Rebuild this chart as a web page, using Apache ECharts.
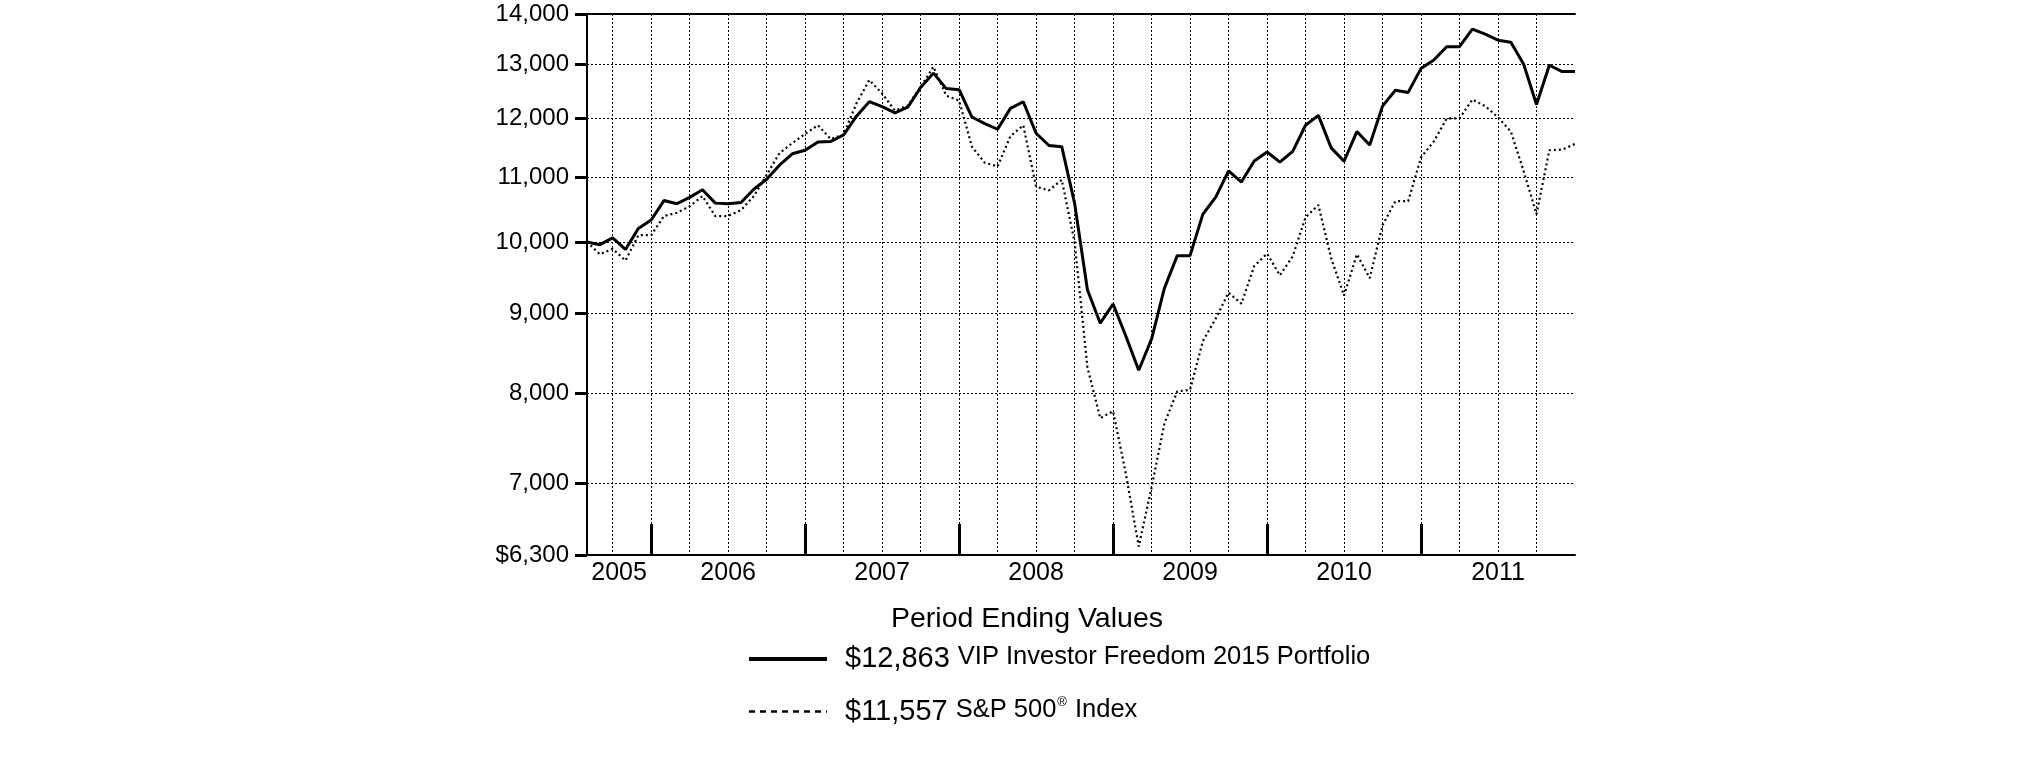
<!DOCTYPE html>
<html><head><meta charset="utf-8">
<script src="https://cdn.jsdelivr.net/npm/echarts@6/dist/echarts.min.js"></script>
<style>html,body{margin:0;padding:0;background:#fff}#c{width:2025px;height:761px}</style>
</head><body><div id="c"></div>
<script>
// ---- data ----
const startYear = 2005, startMonth = 7; // first plotted month
const fundName = 'VIP Investor Freedom 2015 Portfolio';
const indexName = 'S&P 500® Index';
const titleText = 'Period Ending Values';
const fundValues = [
  10000, 9960, 10060, 9890, 10200, 10330, 10630, 10580, 10680, 10800,
  10590, 10580, 10600, 10810, 10970, 11200, 11390, 11450, 11590, 11600,
  11710, 12040, 12300, 12210, 12100, 12200, 12560, 12830, 12540, 12520,
  12025, 11910, 11810, 12180, 12300, 11740, 11530, 11510, 10590, 9320,
  8870, 9125, 8700, 8275, 8665, 9340, 9800, 9800, 10420, 10685,
  11105, 10925, 11270, 11420, 11250, 11430, 11880, 12055, 11490, 11265,
  11770, 11540, 12220, 12510, 12470, 12920, 13080, 13340, 13340, 13690,
  13590, 13470, 13430, 13000, 12250, 12980, 12860, 12863
];
const indexValues = [
  10000, 9820, 9900, 9730, 10100, 10100, 10390, 10440, 10540, 10700,
  10390, 10390, 10480, 10700, 11040, 11400, 11570, 11730, 11880, 11640,
  11720, 12270, 12700, 12450, 12140, 12230, 12570, 12950, 12410, 12320,
  11510, 11240, 11180, 11690, 11880, 10850, 10790, 10960, 10000, 8310,
  7710, 7790, 7100, 6380, 6960, 7650, 8020, 8040, 8640, 8930,
  9280, 9130, 9650, 9830, 9520, 9790, 10370, 10560, 9760, 9240,
  9820, 9480, 10250, 10620, 10620, 11330, 11600, 12000, 12000, 12340,
  12220, 12020, 11770, 11100, 10420, 11450, 11460, 11557
];
const yTicks = [6300, 7000, 8000, 9000, 10000, 11000, 12000, 13000, 14000];
const yearLabels = ['2005', '2006', '2007', '2008', '2009', '2010', '2011'];

// ---- derived ----
const n = fundValues.length;
const months = [];
for (let i = 0; i < n; i++) {
  const k = startMonth - 1 + i;
  months.push({ y: startYear + Math.floor(k / 12), m: (k % 12) + 1 });
}
const idx = months.map((d, i) => i);
const quarterIdx = idx.filter(i => months[i].m % 3 === 0 && i > 0 && i < n - 1);
const yearEndIdx = idx.filter(i => months[i].m === 12 && i < n - 1);
const yearCenters = yearLabels.map(yl => {
  const y = +yl;
  let a = months.findIndex(d => d.y === y - 1 && d.m === 12); if (a < 0) a = 0;
  let b = months.findIndex(d => d.y === y && d.m === 12); if (b < 0) b = n - 1;
  return (a + b) / 2;
});
const money = v => '$' + Math.round(v).toLocaleString('en-US');
const AR = "'Liberation Sans', Arial, sans-serif";
const idxParts = indexName.split('®');

const chart = echarts.init(document.getElementById('c'), null, { renderer: 'canvas' });
chart.setOption({
  animation: false,
  backgroundColor: '#fff',
  grid: { left: 587, right: 450, top: 14, bottom: 206, containLabel: false, outerBoundsMode: 'none' },
  title: {
    text: titleText, left: 891, top: 605, padding: 0,
    textStyle: { fontFamily: AR, fontSize: 28.5, fontWeight: 'normal', color: '#000' }
  },
  legend: {
    orient: 'vertical', left: 747, top: 644, padding: 0,
    itemWidth: 78, itemHeight: 14, itemGap: 22,
    selectedMode: false,
    itemStyle: { color: 'rgba(0,0,0,0)', borderColor: 'rgba(0,0,0,0)', borderWidth: 0 },
    data: [
      { name: fundName, lineStyle: { color: '#000', width: 4, type: 'solid' } },
      { name: indexName, lineStyle: { color: '#000', width: 2.5, type: [6, 5] } }
    ],
    formatter: name => name === fundName
      ? `{val|${money(fundValues[n - 1])}}{nm|${fundName}}`
      : `{val|${money(indexValues[n - 1])}}{nm|${idxParts[0]}}{sup|®}{nm2|${idxParts[1]}}`,
    textStyle: {
      color: '#000',
      rich: {
        val: { fontFamily: AR, fontSize: 29, lineHeight: 32, padding: [0, 0, 0, 13], color: '#000' },
        nm: { fontFamily: AR, fontSize: 25.5, lineHeight: 26, padding: [0, 0, 4, 8], color: '#000' },
        sup: { fontFamily: AR, fontSize: 13, lineHeight: 13, padding: [0, 1, 18, 1], color: '#000' },
        nm2: { fontFamily: AR, fontSize: 25.5, lineHeight: 26, padding: [0, 0, 4, 0], color: '#000' }
      }
    }
  },
  xAxis: [
    {
      type: 'value', min: 0, max: n - 1, position: 'bottom',
      axisLine: { show: true, onZero: false, lineStyle: { color: '#000', width: 2 } },
      axisTick: { show: false, customValues: quarterIdx },
      splitLine: { show: true, lineStyle: { color: '#000', width: 1, type: [2, 2] } },
      axisLabel: {
        customValues: yearCenters, color: '#000', fontFamily: AR, fontSize: 25, margin: 6,
        formatter: v => {
          let best = 0;
          yearCenters.forEach((c, j) => { if (Math.abs(c - v) < Math.abs(yearCenters[best] - v)) best = j; });
          return yearLabels[best];
        }
      }
    },
    {
      type: 'value', min: 0, max: n - 1, position: 'bottom',
      axisLine: { show: false, onZero: false },
      axisTick: { show: true, inside: true, length: 31, customValues: yearEndIdx, lineStyle: { color: '#000', width: 3 } },
      axisLabel: { show: false }, splitLine: { show: false }
    },
    {
      type: 'value', min: 0, max: n - 1, position: 'top',
      axisLine: { show: true, onZero: false, lineStyle: { color: '#000', width: 2 } },
      axisTick: { show: false }, axisLabel: { show: false }, splitLine: { show: false }
    }
  ],
  yAxis: {
    type: 'log', logBase: 10, min: yTicks[0], max: yTicks[yTicks.length - 1],
    axisLine: { show: true, onZero: false, lineStyle: { color: '#000', width: 2 } },
    axisTick: { show: true, length: 12, customValues: yTicks, lineStyle: { color: '#000', width: 3 } },
    axisLabel: {
      customValues: yTicks, color: '#000', fontFamily: AR, fontSize: 24, margin: 18,
      formatter: v => (Math.round(v) === yTicks[0] ? '$' : '') + Math.round(v).toLocaleString('en-US')
    },
    splitLine: { show: true, lineStyle: { color: '#000', width: 1, type: [2, 2] } },
    minorTick: { show: false }, minorSplitLine: { show: false }
  },
  series: [
    {
      name: fundName, type: 'line', xAxisIndex: 0, symbol: 'none', z: 4,
      data: fundValues.map((v, i) => [i, v]),
      lineStyle: { color: '#000', width: 3 }, itemStyle: { color: '#000' }
    },
    {
      name: indexName, type: 'line', xAxisIndex: 0, symbol: 'none', z: 3,
      data: indexValues.map((v, i) => [i, v]),
      lineStyle: { color: '#000', width: 2.2, type: [2, 3] }, itemStyle: { color: '#000' }
    }
  ]
});
</script></body></html>
